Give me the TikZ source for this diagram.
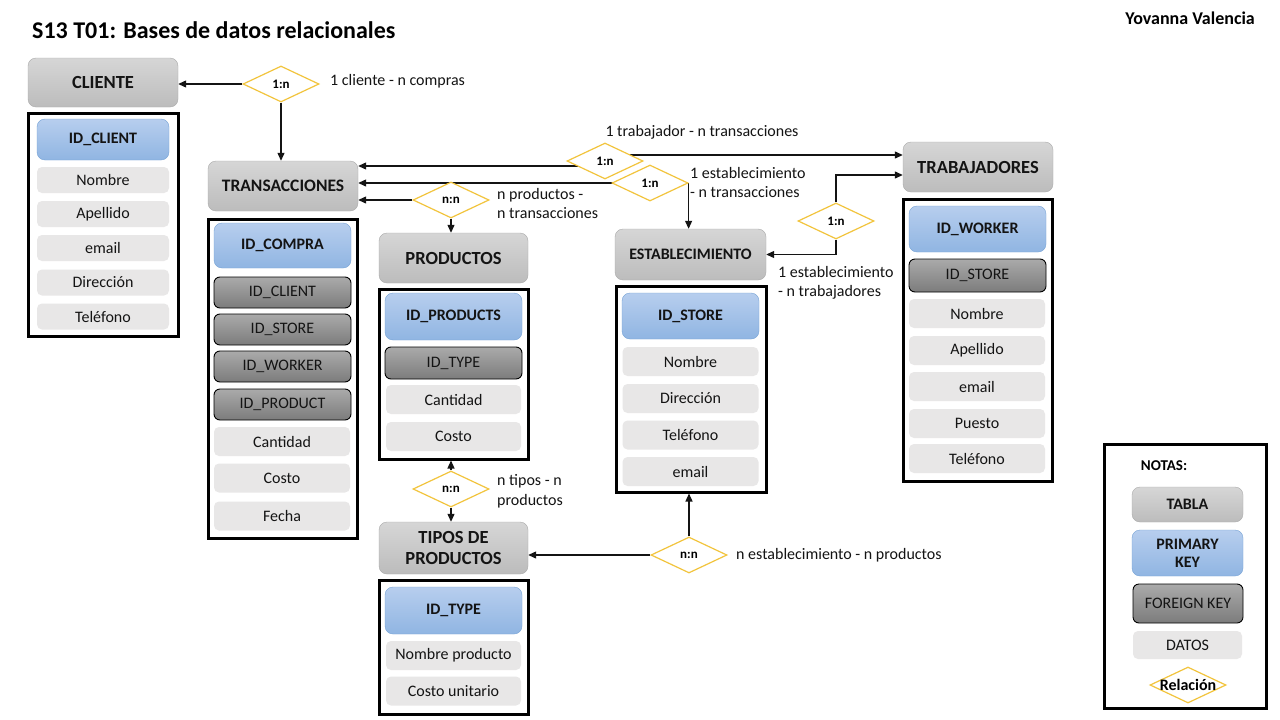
\documentclass[tikz,border=0pt]{standalone}
\usepackage{fontspec}
\setmainfont{Carlito}
\usetikzlibrary{arrows.meta,positioning,shapes.geometric,backgrounds}
\definecolor{hdrtop}{RGB}{214,214,214}
\definecolor{hdrbot}{RGB}{188,188,188}
\definecolor{hdrline}{RGB}{170,170,170}
\definecolor{pktop}{RGB}{183,206,238}
\definecolor{pkbot}{RGB}{144,181,226}
\definecolor{pkline}{RGB}{118,163,214}
\definecolor{fktop}{RGB}{170,170,170}
\definecolor{fkbot}{RGB}{124,124,124}
\definecolor{datfill}{RGB}{232,231,231}
\definecolor{relline}{RGB}{242,196,60}
\definecolor{inkdark}{RGB}{20,20,20}
\newcommand{\fieldfont}{\fontsize{16}{19}\selectfont}

\begin{document}
\begin{tikzpicture}[
  x=1pt, y=-1pt,
  font=\fieldfont,
  arr/.style={-{Triangle[length=8pt,width=7pt]}, line width=1.2pt, draw=inkdark},
  hdr/.style={rounded corners=8pt, draw=hdrline, top color=hdrtop, bottom color=hdrbot, text=inkdark,
    font=\bfseries\fontsize{18.5}{21}\selectfont, align=center, inner sep=0pt, minimum width=150pt, minimum height=50pt},
  tbl/.style={draw=black, line width=3pt, inner sep=0pt},
  pk/.style={rounded corners=8pt, draw=pkline, top color=pktop, bottom color=pkbot, text=inkdark,
    font=\bfseries\fieldfont, align=center, inner sep=0pt, minimum width=137pt, minimum height=46pt},
  fk/.style={rounded corners=6pt, draw=black, line width=0.9pt, top color=fktop, bottom color=fkbot, text=inkdark,
    font=\fieldfont, inner sep=0pt, minimum width=137pt, minimum height=31pt},
  dat/.style={rounded corners=5pt, fill=datfill, text=inkdark, font=\fieldfont, inner sep=0pt,
    minimum width=135pt, minimum height=29pt},
  rel/.style={diamond, draw=relline, fill=white, line width=1.2pt, inner sep=0pt, aspect=2.1,
    minimum width=76pt, minimum height=36pt, font=\bfseries\fontsize{13}{15}\selectfont},
  note/.style={text=inkdark, font=\fieldfont, align=left, anchor=west, inner sep=0pt}
]
\useasboundingbox (0,0) rectangle (1280,720);

\node[anchor=west, inner sep=0pt, font=\bfseries\fontsize{24}{28}\selectfont] (title) at (32,30) {S13 T01: Bases de datos relacionales};
\node[anchor=east, inner sep=0pt, font=\bfseries\fontsize{18}{21}\selectfont] (author) at (1255,18) {Yovanna Valencia};

% cliente
\node[hdr, minimum height=49pt] (cliente) at (103,82.5) {CLIENTE};
\node[tbl, minimum width=150pt, minimum height=223pt] (clitab) at (103,224.5) {};
\node[pk, minimum width=132pt, minimum height=41pt] (clipk) at (103,139.5) {ID\_CLIENT};
\node[dat, minimum width=132pt, minimum height=26pt] (clinom) at (103,180) {Nombre};
\node[dat, minimum width=132pt, minimum height=26pt] (cliape) at (103,214) {Apellido};
\node[dat, minimum width=132pt, minimum height=26pt] (climail) at (103,248) {email};
\node[dat, minimum width=132pt, minimum height=26pt] (clidir) at (103,282.5) {Dirección};
\node[dat, minimum width=132pt, minimum height=26pt] (clitel) at (103,316.5) {Teléfono};

% transacciones
\node[hdr, font=\bfseries\fontsize{17.5}{21}\selectfont] (trans) at (283,186) {TRANSACCIONES};
\node[tbl, minimum width=149pt, minimum height=319pt] (trantab) at (282.5,378.5) {};
\node[pk, minimum height=45pt] (tranpk) at (282.5,245.5) {ID\_COMPRA};
\node[fk] (tranfk1) at (282.5,292.5) {ID\_CLIENT};
\node[fk] (tranfk2) at (282.5,329.5) {ID\_STORE};
\node[fk] (tranfk3) at (282.5,366.5) {ID\_WORKER};
\node[fk] (tranfk4) at (282.5,404.5) {ID\_PRODUCT};
\node[dat, minimum width=136pt] (trancant) at (282,441.5) {Cantidad};
\node[dat, minimum width=136pt] (trancost) at (282,478) {Costo};
\node[dat, minimum width=136pt] (tranfecha) at (282,516) {Fecha};

% productos
\node[hdr, minimum width=149pt] (prod) at (453.5,258) {PRODUCTOS};
\node[tbl, minimum width=149pt, minimum height=170pt] (prodtab) at (453.5,374) {};
\node[pk, minimum height=47pt] (prodpk) at (453.5,316.5) {ID\_PRODUCTS};
\node[fk, minimum height=32pt] (prodfk) at (453.5,363) {ID\_TYPE};
\node[dat] (prodcant) at (453.5,399.5) {Cantidad};
\node[dat] (prodcost) at (453.5,436.5) {Costo};

% tipos de productos
\node[hdr, minimum width=149pt, minimum height=52pt] (tipos) at (453.5,548) {TIPOS DE\\PRODUCTOS};
\node[tbl, minimum width=149pt, minimum height=134pt] (tipotab) at (453.5,647) {};
\node[pk, minimum height=47pt] (tipopk) at (453.5,610.5) {ID\_TYPE};
\node[dat] (tiponom) at (453.5,655.5) {Nombre producto};
\node[dat] (tipocost) at (453.5,691) {Costo unitario};

% establecimiento
\node[hdr, minimum width=151pt, minimum height=51pt, font=\bfseries\fontsize{16}{18}\selectfont] (est) at (690.5,254.5) {ESTABLECIMIENTO};
\node[tbl, minimum width=150pt, minimum height=206pt] (esttab) at (691,389) {};
\node[pk] (estpk) at (690.5,316) {ID\_STORE};
\node[dat, minimum width=136pt] (estnom) at (690.5,361.5) {Nombre};
\node[dat, minimum width=136pt] (estdir) at (690.5,398.5) {Dirección};
\node[dat, minimum width=136pt] (esttel) at (690.5,435) {Teléfono};
\node[dat, minimum width=136pt] (estmail) at (690.5,471.5) {email};

% trabajadores
\node[hdr] (trab) at (978,167) {TRABAJADORES};
\node[tbl, minimum width=149pt, minimum height=282pt] (trabtab) at (977.5,340) {};
\node[pk] (trabpk) at (977.5,229) {ID\_WORKER};
\node[fk, minimum height=33pt] (trabfk) at (977.5,275.5) {ID\_STORE};
\node[dat, minimum width=136pt] (trabnom) at (977,313.5) {Nombre};
\node[dat, minimum width=136pt] (trabape) at (977,350.5) {Apellido};
\node[dat, minimum width=136pt] (trabmail) at (977,386.5) {email};
\node[dat, minimum width=136pt] (trabpuesto) at (977,423.5) {Puesto};
\node[dat, minimum width=136pt] (trabtel) at (977,458.5) {Teléfono};

% relaciones
\node[rel] (relcli) at (281,84) {1:n};
\node[rel] (reltrab) at (605,161) {1:n};
\node[rel] (relest) at (650,183) {1:n};
\node[rel] (relprod) at (451,200) {n:n};
\node[rel] (relworker) at (836,221) {1:n};
\node[rel] (reltipo) at (451,489) {n:n};
\node[rel] (relstock) at (689,555) {n:n};

\coordinate (trin1) at ([yshift=20pt]trans.east);
\coordinate (trin2) at ([yshift=3pt]trans.east);
\coordinate (tbin1) at ([yshift=12pt]trab.west);
\coordinate (tbin2) at ([yshift=-8pt]trab.west);

\begin{scope}[on background layer]
\fill[white] (0,0) rectangle (1280,720);
\draw[arr] (relcli.west) -- (relcli.west -| cliente.east);
\draw[arr] (relcli.south) -- (relcli.south |- trans.north);
\draw[arr] (reltrab.center |- trin1) -- (trin1);
\draw[arr] (reltrab.center |- tbin1) -- (tbin1);
\draw[arr] (relest.center |- trin2) -- (trin2);
\draw[arr] (relest.east) -- (relest.east |- est.north);
\draw[arr] (relprod.west) -- (relprod.west -| trans.east);
\draw[arr] (relprod.south) -- (relprod.south |- prod.north);
\draw[arr] (relworker.north) |- (tbin2);
\draw[arr] (relworker.south) |- (est.east);
\draw[arr] (reltipo.north) -- (reltipo.north |- prodtab.south);
\draw[arr] (reltipo.south) -- (reltipo.south |- tipos.north);
\draw[arr] (relstock.west) -- (relstock.west -| tipos.east);
\draw[arr] (relstock.north) -- (relstock.north |- esttab.south);
\end{scope}

\node[note] (notecli) at (330,81) {1 cliente - n compras};
\node[note, anchor=center] (notetrab) at (702,132) {1 trabajador - n transacciones};
\node[note, font=\fontsize{16}{19.5}\selectfont] (noteest) at (690,182.5) {1 establecimiento\\- n transacciones};
\node[note, font=\fontsize{16}{19.5}\selectfont] (noteprod) at (497,203.5) {n productos -\\n transacciones};
\node[note, font=\fontsize{16}{19.5}\selectfont] (noteworker) at (778,283) {1 establecimiento\\- n trabajadores};
\node[note, font=\fontsize{16}{19.5}\selectfont] (notetipo) at (497,491.5) {n tipos - n\\productos};
\node[note] (notestock) at (736,555) {n establecimiento - n productos};

% notas
\node[tbl, minimum width=162pt, minimum height=264pt] (legbox) at (1185,576) {};
\node[inner sep=0pt, font=\bfseries\fontsize{15}{18}\selectfont] (legtitle) at (1164,466) {NOTAS:};
\node[hdr, minimum width=111pt, minimum height=35pt, font=\bfseries\fieldfont] (legtabla) at (1187.5,504.5) {TABLA};
\node[pk, minimum width=111pt, minimum height=46pt, font=\bfseries\fieldfont\linespread{0.95}\selectfont] (legpk) at (1187.5,553) {PRIMARY\\KEY};
\node[fk, minimum width=110pt, minimum height=39pt] (legfk) at (1188,603.5) {FOREIGN KEY};
\node[dat, minimum width=109pt, minimum height=28pt] (legdat) at (1187.5,645) {DATOS};
\node[rel, font=\bfseries\fieldfont] (legrel) at (1188,685) {\makebox[0pt]{Relación}};
\end{tikzpicture}
\end{document}
